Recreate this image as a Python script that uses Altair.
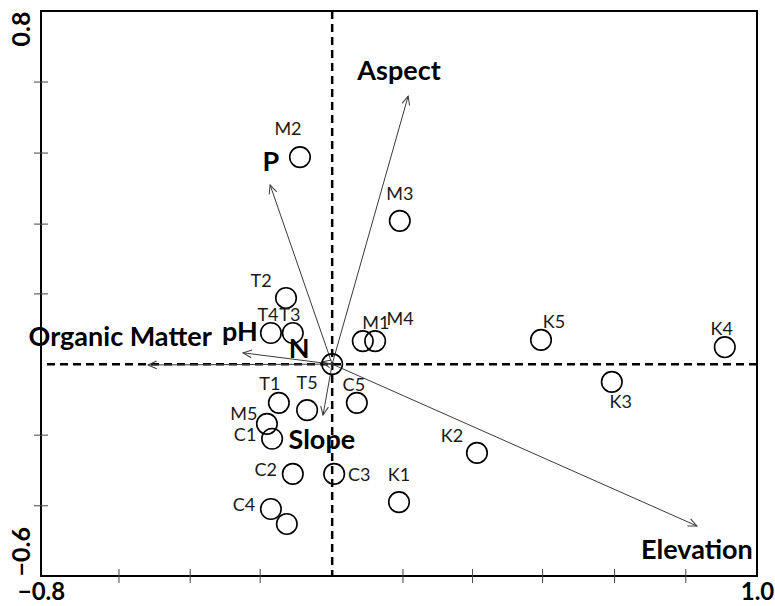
import math
import altair as alt
import pandas as pd

# ---- axis ranges (as labelled) ----
X_MIN, X_MAX = -0.8, 1.0
Y_MIN, Y_MAX = -0.6, 0.8
W, H = 716, 565

# origin of the biplot (dashed cross)
origin_x = -0.068
origin_y = -0.075

# ---- samples ----
sample_names = ["M1", "M2", "M3", "M4", "M5",
                "T1", "T2", "T3", "T4", "T5",
                "C1", "C2", "C3", "C4", "C5",
                "K1", "K2", "K3", "K4", "K5",
                "", ""]
sample_x = [0.009, -0.149, 0.102, 0.040, -0.232,
            -0.202, -0.184, -0.167, -0.222, -0.131,
            -0.219, -0.167, -0.063, -0.222, -0.006,
            0.100, 0.296, 0.635, 0.919, 0.457,
            -0.068, -0.182]
sample_y = [-0.018, 0.438, 0.280, -0.018, -0.223,
            -0.171, 0.089, 0.002, 0.002, -0.189,
            -0.260, -0.347, -0.347, -0.434, -0.171,
            -0.417, -0.295, -0.119, -0.033, -0.015,
            -0.075, -0.471]
sample_label_side = ["NE", "NNW", "N", "ENE", "WNW",
                     "nw", "NW", "n", "n", "N",
                     "W", "W", "E", "W", "n",
                     "N", "NW", "S", "n", "NE",
                     "", ""]

# ---- environmental variables (arrow tips and label anchors) ----
env_names = ["Aspect", "P", "Organic Matter", "pH", "N", "Slope", "Elevation"]
env_x = [0.123, -0.224, -0.531, -0.292, -0.094, -0.091, 0.849]
env_y = [0.589, 0.369, -0.077, -0.047, -0.070, -0.201, -0.476]
env_label_x = [0.100, -0.222, -0.601, -0.300, -0.151, -0.094, 0.849]
env_label_y = [0.649, 0.423, -0.010, 0.002, -0.040, -0.265, -0.538]

# ---- minor tick positions along the frame ----
x_ticks = [-0.604, -0.425, -0.249, 0.110, 0.285, 0.461, 0.642, 0.821]
y_ticks = [0.624, 0.448, 0.272, 0.099, -0.251, -0.426]

# label offsets in pixels for each placement keyword
side_offsets = {
    "N": (0, -26), "n": (-3, -17), "nw": (-9, -18), "NNW": (-12, -27),
    "NW": (-25, -16), "WNW": (-23, -9), "NE": (13, -17), "ENE": (25, -21),
    "W": (-27, -3), "E": (25, 2), "S": (9, 21), "": (0, 0),
}

kx = W / (X_MAX - X_MIN)
ky = H / (Y_MAX - Y_MIN)

samples = pd.DataFrame({"name": sample_names, "x": sample_x, "y": sample_y,
                        "side": sample_label_side})
samples["lx"] = [x + side_offsets[s][0] / kx for x, s in zip(samples.x, samples.side)]
samples["ly"] = [y - side_offsets[s][1] / ky for y, s in zip(samples.y, samples.side)]

env = pd.DataFrame({"name": env_names, "tx": env_x, "ty": env_y,
                    "lx": env_label_x, "ly": env_label_y})
env["ox"] = origin_x
env["oy"] = origin_y
env["angle"] = [
    (math.degrees(math.atan2((tx - origin_x) * kx, (ty - origin_y) * ky)) + 360) % 360
    for tx, ty in zip(env.tx, env.ty)
]

xs = alt.Scale(domain=[X_MIN, X_MAX], nice=False, zero=False)
ys = alt.Scale(domain=[Y_MIN, Y_MAX], nice=False, zero=False)
xax = alt.Axis(values=[X_MIN, X_MAX], format=".1f", title=None, grid=False,
               ticks=False, domain=False, labelFont="Lato", labelFontSize=24,
               labelFontWeight="bold", labelColor="black", labelPadding=4,
               labelFlush=False)
yax = alt.Axis(values=[Y_MIN, Y_MAX], format=".1f", title=None, grid=False,
               ticks=False, domain=False, labelFont="Lato", labelFontSize=25,
               labelFontWeight="bold", labelColor="black", labelPadding=7,
               labelAngle=270,
               labelAlign=alt.ExprRef(expr="datum.value > 0 ? 'right' : 'left'"),
               labelBaseline="bottom")


def X(f):
    return alt.X(f, type="quantitative", scale=xs, axis=xax)


def Y(f):
    return alt.Y(f, type="quantitative", scale=ys, axis=yax)


hline = alt.Chart(pd.DataFrame({"y": [origin_y]})).mark_rule(
    color="black", strokeWidth=2.5, strokeDash=[8, 5]).encode(y=Y("y"))
vline = alt.Chart(pd.DataFrame({"x": [origin_x]})).mark_rule(
    color="black", strokeWidth=2.5, strokeDash=[8, 5]).encode(x=X("x"))

arrows = alt.Chart(env).mark_rule(color="#3a3a3a", strokeWidth=1).encode(
    x=X("ox"), y=Y("oy"), x2="tx", y2="ty")
heads = alt.Chart(env).mark_point(
    shape="M-0.45,1L0,0L0.45,1", filled=False, size=300, color="#3a3a3a",
    strokeWidth=1, opacity=1).encode(
    x=X("tx"), y=Y("ty"), angle=alt.Angle("angle:Q", scale=None))

circles = alt.Chart(samples).mark_point(
    shape="circle", filled=False, size=420, color="black", strokeWidth=1.6,
    opacity=1).encode(x=X("x"), y=Y("y"))

slabels = alt.Chart(samples).mark_text(
    font="Lato", fontSize=18, color="#1a1a1a", baseline="middle",
    align="center").encode(x=X("lx"), y=Y("ly"), text="name:N")

elabels = alt.Chart(env).mark_text(
    font="Lato", fontSize=27, fontWeight="bold", color="black",
    baseline="middle", align="center").encode(x=X("lx"), y=Y("ly"), text="name:N")

xt = alt.Chart(pd.DataFrame({"x": x_ticks, "y": [Y_MIN] * len(x_ticks)})).mark_tick(
    orient="vertical", size=14, thickness=1, color="#444", opacity=1).encode(
    x=X("x"), y=Y("y"))
yt = alt.Chart(pd.DataFrame({"y": y_ticks, "x": [X_MIN] * len(y_ticks)})).mark_tick(
    orient="horizontal", size=14, thickness=1, color="#444", opacity=1).encode(
    x=X("x"), y=Y("y"))

chart = alt.layer(hline, vline, arrows, heads, circles, slabels, elabels, xt, yt).properties(
    width=W, height=H,
    autosize=alt.AutoSizeParams(type="none"),
    padding={"left": 41, "top": 11, "right": 18, "bottom": 30},
    background="white",
).configure_view(stroke="black", strokeWidth=2)

chart.save("out.html", embed_options={"renderer": "svg", "actions": False})
